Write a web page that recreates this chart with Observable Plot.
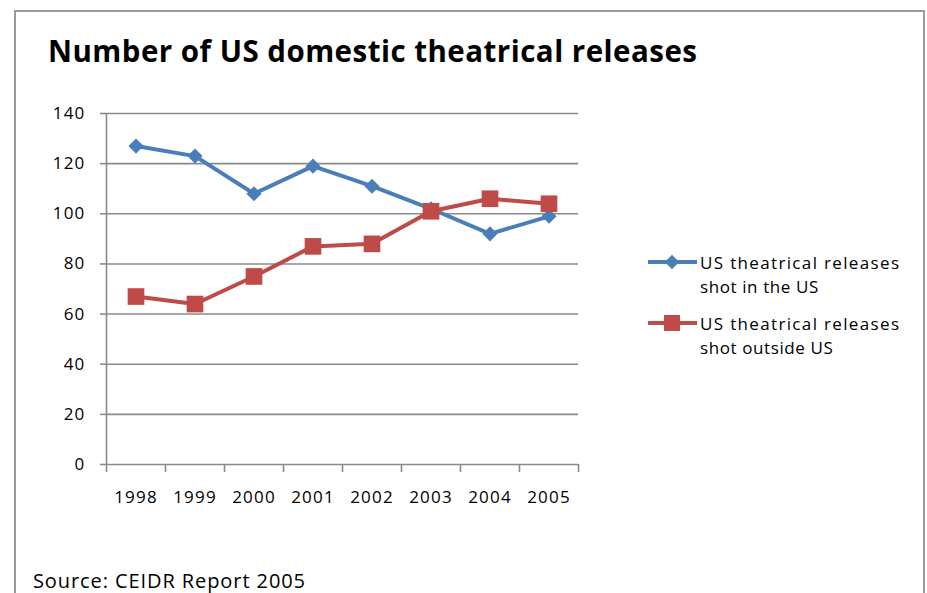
<!DOCTYPE html>
<html>
<head>
<meta charset="utf-8">
<script src="https://cdn.jsdelivr.net/npm/d3@7"></script>
<script src="https://cdn.jsdelivr.net/npm/@observablehq/plot@0.6"></script>
<style>
  html, body { margin: 0; padding: 0; background: #fff; overflow: hidden; }
  #wrap { position: relative; width: 927px; height: 593px; overflow: hidden; background: #fff; }
  #frame { position: absolute; left: 14px; top: 10px; width: 911px; height: 700px; border: 2px solid #9a9a9a; box-sizing: border-box; }
  #chart { position: absolute; left: 0; top: 90px; }
  #overlay { position: absolute; left: 0; top: 0; }
</style>
</head>
<body>
<div id="wrap">
  <div id="frame"></div>
  <div id="chart"></div>
  <svg id="overlay" width="927" height="593"></svg>
</div>
<script>
// ---- data ----
const years = [1998, 1999, 2000, 2001, 2002, 2003, 2004, 2005];
const shotInUS = [127, 123, 108, 119, 111, 102, 92, 99];
const shotOutsideUS = [67, 64, 75, 87, 88, 101, 106, 104];
const seriesNames = ["US theatrical releases shot in the US", "US theatrical releases shot outside US"];
const legendLines = [["US theatrical releases", "shot in the US"], ["US theatrical releases", "shot outside US"]];
const yTicks = [0, 20, 40, 60, 80, 100, 120, 140];
const titleText = "Number of US domestic theatrical releases";
const sourceText = "Source: CEIDR Report 2005";

const blue = "#4a7ebb";
const red = "#be4b48";
const axisGray = "#8a8a8a";

const rows = years.flatMap((y, i) => [
  {year: y, value: shotInUS[i], series: seriesNames[0]},
  {year: y, value: shotOutsideUS[i], series: seriesNames[1]}
]);
const boundaries = [...years.map(y => y - 0.5), years[years.length - 1] + 0.5];

const chart = Plot.plot({
  width: 600,
  height: 430,
  marginTop: 23,
  marginBottom: 56,
  marginLeft: 106,
  marginRight: 22,
  style: {fontFamily: "'Open Sans', sans-serif", fontSize: "17px", color: "#000", letterSpacing: "1.2px", background: "transparent"},
  x: {domain: [boundaries[0], boundaries[boundaries.length - 1]]},
  y: {domain: [0, 140]},
  marks: [
    Plot.ruleY(yTicks.filter(d => d > 0), {stroke: axisGray, strokeWidth: 1.6}),
    Plot.axisY({ticks: yTicks, tickSize: 6, tickPadding: 15, stroke: axisGray, strokeWidth: 1.6, label: null, fill: "#000"}),
    Plot.axisX({ticks: boundaries, tickSize: 8, tickFormat: () => "", stroke: axisGray, strokeWidth: 1.6, label: null}),
    Plot.axisX({ticks: years, tickSize: 0, tickPadding: 26, tickFormat: d => String(d), label: null, fill: "#000"}),
    Plot.ruleX([boundaries[0]], {y1: 0, y2: 140, stroke: axisGray, strokeWidth: 1.6}),
    Plot.ruleY([0], {stroke: axisGray, strokeWidth: 1.6}),
    Plot.line(rows, {x: "year", y: "value", z: "series", stroke: d => d.series === seriesNames[0] ? blue : red, strokeWidth: 4, strokeLinejoin: "round", strokeLinecap: "round"}),
    Plot.dot(rows.filter(d => d.series === seriesNames[0]), {x: "year", y: "value", symbol: "diamond2", r: 6.8, fill: blue, stroke: "none"}),
    Plot.dot(rows.filter(d => d.series === seriesNames[1]), {x: "year", y: "value", symbol: "square", r: 9.4, fill: red, stroke: "none"})
  ]
});
document.getElementById("chart").appendChild(chart);

// ---- overlay: title, legend, source ----
const ov = d3.select("#overlay");
function txt(s, x, y, size, weight, width, family) {
  const t = ov.append("text").attr("x", x).attr("y", y)
    .attr("font-family", family || "'Open Sans', sans-serif")
    .attr("font-size", size).attr("font-weight", weight).attr("fill", "#000").text(s);
  if (width) t.attr("textLength", width).attr("lengthAdjust", "spacing");
  return t;
}
txt(titleText, 48, 62, 29.5, 700, 649);

const legendY = [262, 323];
const legendColors = [blue, red];
legendY.forEach((ly, i) => {
  ov.append("line").attr("x1", 648).attr("x2", 697).attr("y1", ly).attr("y2", ly)
    .attr("stroke", legendColors[i]).attr("stroke-width", 4);
  if (i === 0) {
    ov.append("path").attr("d", d3.symbol(d3.symbolDiamond2, 130)()).attr("transform", `translate(672,${ly})`).attr("fill", blue);
  } else {
    ov.append("rect").attr("x", 664).attr("y", ly - 8).attr("width", 16).attr("height", 16).attr("fill", red);
  }
  const l1 = legendLines[i][0], l2 = legendLines[i][1];
  const base = i === 0 ? 269 : 330;
  txt(l1, 700, base, 17, 400, 199);
  const t2 = txt(l2, 700, base + 23.5, 17, 400);
  t2.attr("letter-spacing", "0.6px");
});

txt(sourceText, 33, 588, 20, 400, 272);
</script>
</body>
</html>
